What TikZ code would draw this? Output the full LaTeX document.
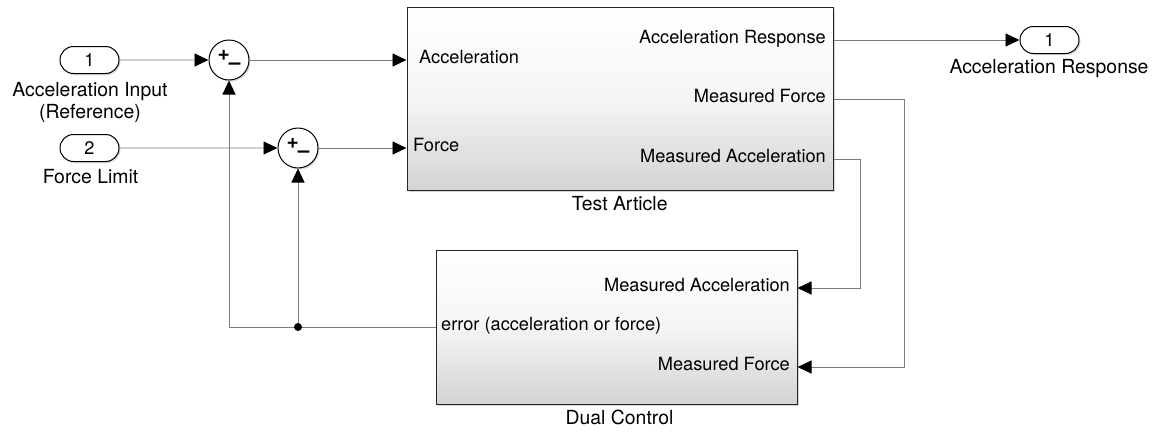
\documentclass[tikz,border=0pt]{standalone}
\usepackage{fontspec}
\setmainfont{TeX Gyre Heros}
\usetikzlibrary{arrows.meta,shapes.misc,shadows}
\definecolor{wiregray}{RGB}{125,125,125}
\tikzset{
  wire/.style={draw=wiregray, line width=0.9pt},
  sig/.style={wire, -{Triangle[length=14pt,width=13pt,color=black]}},
  blk/.style={draw=black!85, line width=1pt, top color=white, bottom color=black!17,
    middle color=white!96!black, inner sep=0pt,
    drop shadow={opacity=.35, shadow xshift=2pt, shadow yshift=-2pt}},
  sumblk/.style={circle, draw, line width=1pt, fill=white, minimum size=40pt, inner sep=0pt,
    font=\fontsize{21}{22}\bfseries,
    drop shadow={opacity=.3, shadow xshift=1.5pt, shadow yshift=-1.5pt}},
  port/.style={rounded rectangle, draw, line width=1pt, fill=white, minimum width=59pt,
    minimum height=27pt, inner sep=0pt,
    drop shadow={opacity=.3, shadow xshift=1.5pt, shadow yshift=-1.5pt}},
  lbl/.style={inner sep=0pt, text height=1.5ex, text depth=.25ex},
  bigfont/.style={font=\fontsize{19.4}{22}\selectfont},
  blkname/.style={lbl, bigfont},
}
\newcommand{\sumsign}{+\kern-1pt\raisebox{-.8ex}{\textendash}}
\begin{document}
\begin{tikzpicture}[x=1pt, y=-1pt, font=\fontsize{18.2}{22}\selectfont]
\useasboundingbox (0,0) rectangle (1156,434);
% blocks
\node[port] (In1) at (89.5,60){1};
\node[port] (In2) at (89.5,148){2};
\node[bigfont, align=center, inner sep=0pt] (In1lbl) at (90,102){Acceleration Input\\(Reference)};
\node[blkname] (In2lbl) at (90.5,180){Force Limit};
\node[sumblk] (S1) at (229,60){\sumsign};
\node[sumblk] (S2) at (298,148){\sumsign};
\node[blk, minimum width=426pt, minimum height=183pt] (TA) at (620,98.5){};
\node[blkname] (TAlbl) at (619.7,207){Test Article};
\node[blk, minimum width=361pt, minimum height=154pt] (DC) at (616.5,327){};
\node[blkname] (DClbl) at (619.5,421){Dual Control};
\node[port] (Out1) at (1049.5,40){1};
\node[blkname] (Out1lbl) at (1049,70){Acceleration Response};

% port labels
\node[lbl, anchor=west] (TAacc) at (419,60){Acceleration};
\node[lbl, anchor=west] (TAforce) at (413,148){Force};
\node[lbl, anchor=east] (TAresp) at (826,40){Acceleration Response};
\node[lbl, anchor=east] (TAmf) at (826,99){Measured Force};
\node[lbl, anchor=east] (TAma) at (826,159){Measured Acceleration};
\node[lbl, anchor=east] (DCma) at (790,288){Measured Acceleration};
\node[lbl, anchor=west] (DCerr) at (441,327){error (acceleration or force)};
\node[lbl, anchor=east] (DCmf) at (790,367){Measured Force};

% signals
\draw[sig] (In1)--(S1);
\draw[sig] (S1)--(S1 -| TA.west);
\draw[sig] (In2)--(S2);
\draw[sig] (S2)--(S2 -| TA.west);
\draw[sig] (TAresp -| TA.east)--(Out1);
\draw[sig] (TAmf -| TA.east)--++(71,0) |- (DCmf -| DC.east);
\draw[sig] (TAma -| TA.east)--++(27,0) |- (DCma -| DC.east);

% error feedback
\coordinate (J) at (S2 |- DC.west);
\draw[wire] (DC.west)--(S1 |- DC.west);
\draw[sig] (S1 |- DC.west)--(S1);
\draw[sig] (J)--(S2);
\fill (J) circle (4);

\end{tikzpicture}
\end{document}
